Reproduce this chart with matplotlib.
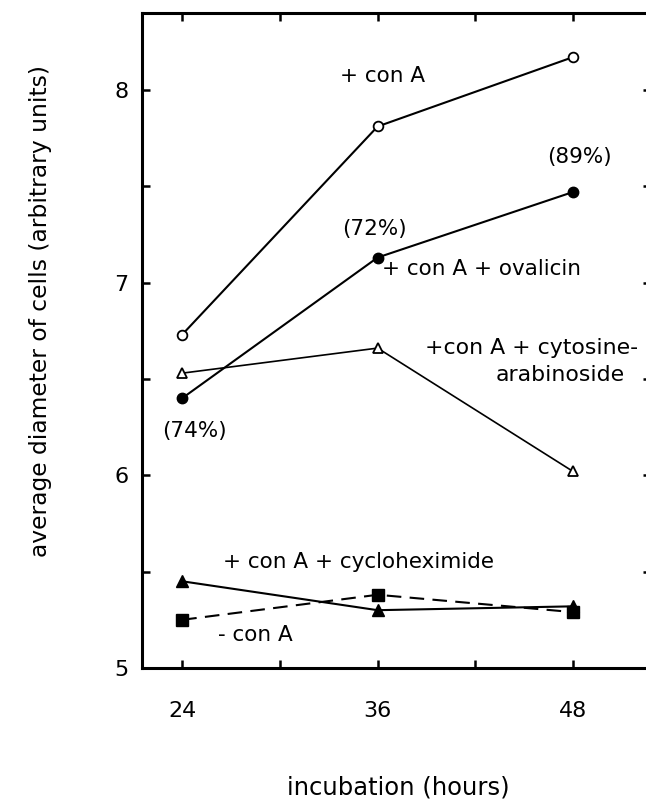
import matplotlib
matplotlib.use('Agg')
import matplotlib.pyplot as plt
from matplotlib.ticker import MultipleLocator, FixedLocator

plt.rcParams['font.family'] = 'DejaVu Sans'

# --- data ---
hours = [24, 36, 48]
con_a = [6.73, 7.81, 8.17]
ovalicin = [6.40, 7.13, 7.47]
cytosine = [6.53, 6.66, 6.02]
cycloheximide = [5.45, 5.30, 5.32]
no_con_a = [5.25, 5.38, 5.29]
x_ticklabels = ['24', '36', '48']
y_ticklabels = ['5', '6', '7', '8']

fig = plt.figure(figsize=(6.46, 8.0), dpi=100, facecolor='white')
# right spine lies just past the image edge, as in the scanned original
ax = fig.add_axes([0.22, 0.165, 0.788, 0.819])
ax.set_xlim(21.54, 52.8)
ax.set_ylim(5.0, 8.40)

LW = 1.5
ax.plot(hours, con_a, color='black', lw=LW, marker='o', ms=7,
        mfc='white', mec='black', mew=1.3, zorder=3)
ax.plot(hours, ovalicin, color='black', lw=LW, marker='o', ms=7.5,
        mfc='black', mec='black', zorder=3)
ax.plot(hours, cytosine, color='black', lw=1.2, marker='^', ms=7,
        mfc='white', mec='black', mew=1.3, zorder=3)
ax.plot(hours, cycloheximide, color='black', lw=LW, marker='^', ms=8,
        mfc='black', mec='black', zorder=3)
ax.plot(hours, no_con_a, color='black', lw=LW, ls=(0, (7, 4)), marker='s', ms=8,
        mfc='black', mec='black', zorder=3)

for s in ax.spines.values():
    s.set_linewidth(2.2)

ax.xaxis.set_major_locator(FixedLocator([24, 36, 48]))
ax.set_xticklabels(x_ticklabels)
ax.xaxis.set_minor_locator(FixedLocator([30, 42]))
ax.yaxis.set_major_locator(FixedLocator([5, 6, 7, 8]))
ax.set_yticklabels(y_ticklabels)
ax.yaxis.set_minor_locator(MultipleLocator(0.5))
ax.tick_params(which='both', direction='in', top=True, right=True,
               length=6, width=1.8, labelsize=16)
ax.tick_params(axis='x', which='major', pad=24)
ax.tick_params(axis='y', which='major', pad=10)

# curve labels
fs = 15.5
ax.text(33.7, 8.07, '+ con A', fontsize=fs, va='center')
ax.text(33.85, 7.28, '(72%)', fontsize=fs, va='center')
ax.text(46.4, 7.65, '(89%)', fontsize=fs, va='center')
ax.text(36.3, 7.07, '+ con A + ovalicin', fontsize=fs, va='center')
ax.text(38.9, 6.66, '+con A + cytosine-', fontsize=15.8, va='center')
ax.text(51.2, 6.52, 'arabinoside', fontsize=15.8, va='center', ha='right')
ax.text(22.75, 6.23, '(74%)', fontsize=fs, va='center')
ax.text(26.5, 5.55, '+ con A + cycloheximide', fontsize=fs, va='center')
ax.text(26.2, 5.17, '- con A', fontsize=fs, va='center')

fig.text(0.616, 0.016, 'incubation (hours)', fontsize=17.5, ha='center', va='center')
fig.text(0.063, 0.611, 'average diameter of cells (arbitrary units)', fontsize=16.8,
         ha='center', va='center', rotation=90)

plt.savefig('out.png', dpi=100)
